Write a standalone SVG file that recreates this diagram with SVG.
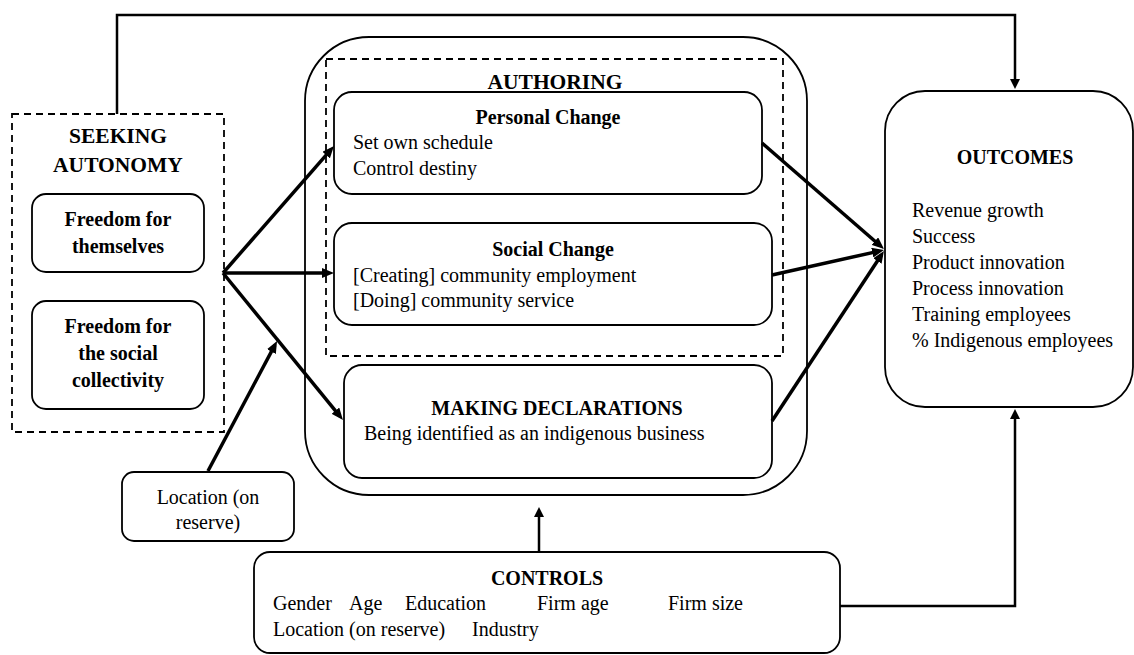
<svg xmlns="http://www.w3.org/2000/svg" width="1134" height="655" viewBox="0 0 1134 655">
<style>
text{font-family:"Liberation Serif","Times New Roman",serif;font-size:20px;fill:#000}
.b{font-weight:bold}
.t{font-weight:bold;font-size:21.5px}
.c{text-anchor:middle}
.box{fill:#fff;stroke:#000;stroke-width:1.8}
.dash{fill:none;stroke:#000;stroke-width:1.8;stroke-dasharray:7,5}
.thick{fill:none;stroke:#000;stroke-width:3.5;marker-end:url(#ah)}
.thin{fill:none;stroke:#000;stroke-width:2.5}
.thinA{fill:none;stroke:#000;stroke-width:2.5;marker-end:url(#ah2)}
</style>
<defs>
<marker id="ah" viewBox="0 0 12 10" refX="7" refY="5" markerWidth="12" markerHeight="10" markerUnits="userSpaceOnUse" orient="auto"><path d="M0,0 L12,5 L0,10 z" fill="#000"/></marker>
<marker id="ah2" viewBox="0 0 10 10" refX="6" refY="5" markerWidth="10" markerHeight="10" markerUnits="userSpaceOnUse" orient="auto"><path d="M0,0 L10,5 L0,10 z" fill="#000"/></marker>
</defs>
<rect width="1134" height="655" fill="#fff"/>
<g id="authoring-outer"><rect class="box" x="305" y="37" width="502" height="458" rx="64"/></g>
<g id="authoring"><rect class="dash" x="326" y="59" width="457" height="297"/>
<text class="t c" x="555" y="89">AUTHORING</text></g>
<g id="personal-change"><rect class="box" x="334" y="92" width="428" height="102" rx="18"/>
<text class="b c" x="548" y="124">Personal Change</text>
<text x="353" y="149">Set own schedule</text>
<text x="353" y="175">Control destiny</text></g>
<g id="social-change"><rect class="box" x="334" y="223" width="438" height="102" rx="18"/>
<text class="b c" x="553" y="256">Social Change</text>
<text x="353" y="282">[Creating] community employment</text>
<text x="353" y="307">[Doing] community service</text></g>
<g id="making-declarations"><rect class="box" x="344" y="365" width="428" height="113" rx="18"/>
<text class="b c" x="557" y="415">MAKING DECLARATIONS</text>
<text x="364" y="440">Being identified as an indigenous business</text></g>
<g id="seeking-autonomy"><rect class="dash" x="12" y="114" width="212" height="318"/>
<text class="t c" x="118" y="143">SEEKING</text>
<text class="t c" x="118" y="172">AUTONOMY</text></g>
<g id="freedom-themselves"><rect class="box" x="32" y="194" width="172" height="78" rx="14"/>
<text class="b c" x="118" y="226">Freedom for</text>
<text class="b c" x="118" y="253">themselves</text></g>
<g id="freedom-collectivity"><rect class="box" x="32" y="301" width="172" height="108" rx="14"/>
<text class="b c" x="118" y="333">Freedom for</text>
<text class="b c" x="118" y="360">the social</text>
<text class="b c" x="118" y="387">collectivity</text></g>
<g id="location"><rect class="box" x="122" y="472" width="172" height="69" rx="12"/>
<text class="c" x="208" y="504">Location (on</text>
<text class="c" x="208" y="529">reserve)</text></g>
<g id="outcomes"><rect class="box" x="885" y="91" width="248" height="316" rx="40"/>
<text class="b c" x="1015" y="164">OUTCOMES</text>
<text x="912" y="217">Revenue growth</text>
<text x="912" y="243">Success</text>
<text x="912" y="269">Product innovation</text>
<text x="912" y="295">Process innovation</text>
<text x="912" y="321">Training employees</text>
<text x="912" y="347">% Indigenous employees</text></g>
<g id="controls"><rect class="box" x="254" y="552" width="586" height="101" rx="16"/>
<text class="b c" x="547" y="585">CONTROLS</text>
<text x="273" y="610">Gender</text>
<text x="349" y="610">Age</text>
<text x="405" y="610">Education</text>
<text x="537" y="610">Firm age</text>
<text x="668" y="610">Firm size</text>
<text x="273" y="636">Location (on reserve)</text>
<text x="472" y="636">Industry</text></g>
<g id="connectors">
<path class="thick" d="M223,273 L330.7,149.8"/>
<path class="thick" d="M223,273 L329,273"/>
<path class="thick" d="M223,273 L339.8,416.1"/>
<path class="thick" d="M208,471 L274.7,345.4"/>
<path class="thick" d="M762,143 L880.2,245.7"/>
<path class="thick" d="M772,275 L879.1,251.1"/>
<path class="thick" d="M772,421 L881.2,255.2"/>
<path class="thinA" d="M117,114 V15 H1015 V85"/>
<path class="thinA" d="M539,552 V511"/>
<path class="thinA" d="M840,606 H1015 V413"/>
</g>
</svg>
